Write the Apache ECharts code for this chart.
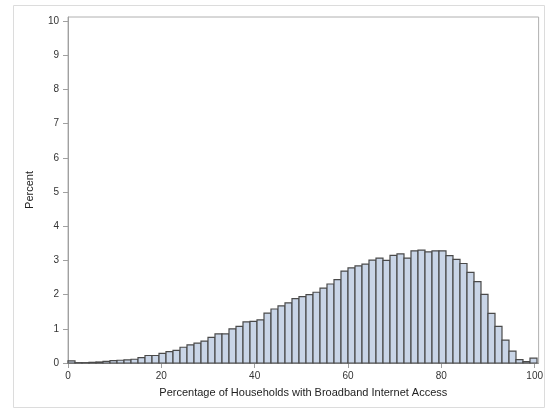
<!DOCTYPE html>
<html>
<head>
<meta charset="utf-8">
<script src="https://cdn.jsdelivr.net/npm/echarts@6/dist/echarts.min.js"></script>
<style>
html,body{margin:0;padding:0;background:#fff;}
#chart{width:546px;height:415px;}
</style>
</head>
<body>
<div id="chart"></div>
<script>
// Histogram: bin width 1.5, first bin starts at 0
const binWidth = 1.5;
const binStart = 0;
const percentValues = [
  0.06, 0.01, 0.01, 0.02, 0.03, 0.05, 0.07, 0.08, 0.09, 0.11,
  0.16, 0.22, 0.22, 0.28, 0.33, 0.37, 0.46, 0.53, 0.58, 0.64,
  0.75, 0.85, 0.85, 1.00, 1.07, 1.20, 1.22, 1.26, 1.46, 1.58,
  1.67, 1.76, 1.88, 1.94, 2.00, 2.07, 2.19, 2.31, 2.44, 2.69,
  2.78, 2.84, 2.89, 3.01, 3.07, 3.00, 3.15, 3.19, 3.07, 3.28,
  3.30, 3.25, 3.28, 3.28, 3.14, 3.03, 2.91, 2.65, 2.38, 2.01,
  1.45, 1.07, 0.67, 0.35, 0.10, 0.04, 0.14
];
const xTicks = [0, 20, 40, 60, 80, 100];
const yTicks = [0, 1, 2, 3, 4, 5, 6, 7, 8, 9, 10];
const xTitle = 'Percentage of Households with Broadband Internet Access';
const yTitle = 'Percent';

const data = percentValues.map((v, i) => [binStart + i * binWidth, binStart + (i + 1) * binWidth, v]);

const chart = echarts.init(document.getElementById('chart'), null, {renderer: 'canvas'});
const font = 'Liberation Sans, Arial, sans-serif';
chart.setOption({
  animation: false,
  backgroundColor: '#fff',
  graphic: [{
    type: 'rect', shape: {x: 13.5, y: 5.5, width: 531, height: 402},
    style: {fill: 'none', stroke: '#dcdcdc', lineWidth: 1}, silent: true, z: -1
  }],
  grid: {left: 68, top: 17, right: 6, bottom: 52, show: true, borderColor: '#b0b0b0', borderWidth: 1, backgroundColor: 'transparent'},
  xAxis: {
    type: 'value', min: 0, max: 100.85,
    name: xTitle, nameLocation: 'middle', nameGap: 24,
    nameTextStyle: {fontFamily: font, fontSize: 11, color: '#222'},
    axisLine: {show: true, lineStyle: {color: '#a0a0a0'}},
    axisTick: {show: true, length: 5, lineStyle: {color: '#a0a0a0'}, customValues: xTicks},
    axisLabel: {fontFamily: font, fontSize: 10, color: '#333', margin: 8, customValues: xTicks},
    splitLine: {show: false}
  },
  yAxis: {
    type: 'value', min: 0, max: 10.12,
    name: yTitle, nameLocation: 'middle', nameGap: 33, nameRotate: 90,
    nameTextStyle: {fontFamily: font, fontSize: 11, color: '#222'},
    axisLine: {show: true, lineStyle: {color: '#a0a0a0'}},
    axisTick: {show: true, length: 5, lineStyle: {color: '#a0a0a0'}, customValues: yTicks},
    axisLabel: {fontFamily: font, fontSize: 10, color: '#333', margin: 9, customValues: yTicks},
    splitLine: {show: false}
  },
  series: [{
    type: 'custom',
    data: data,
    encode: {x: [0, 1], y: 2},
    renderItem: function (params, api) {
      const p0 = api.coord([api.value(0), 0]);
      const p1 = api.coord([api.value(1), api.value(2)]);
      return {
        type: 'rect',
        shape: {x: p0[0], y: p1[1], width: p1[0] - p0[0], height: p0[1] - p1[1]},
        style: {fill: '#C9D5E7', stroke: '#4a4a4a', lineWidth: 1.2}
      };
    }
  }]
});
</script>
</body>
</html>
